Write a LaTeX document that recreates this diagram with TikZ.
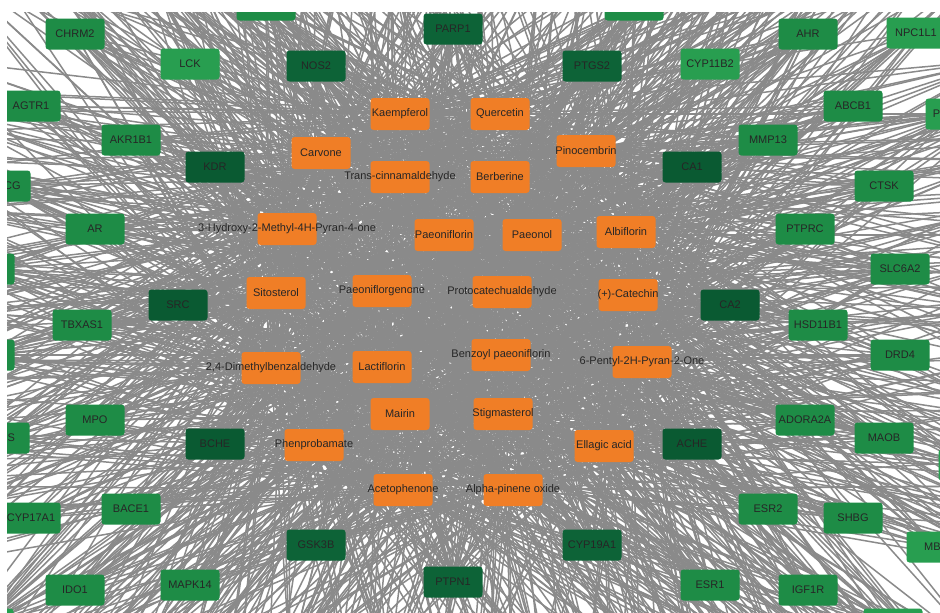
\documentclass[tikz,border=0pt]{standalone}
\usepackage{fontspec}
\setmainfont{Liberation Sans}
\usetikzlibrary{backgrounds}

\definecolor{edgegray}{RGB}{138,138,138}
\definecolor{corange}{RGB}{240,126,38}
\definecolor{gdark}{RGB}{10,90,50}
\definecolor{gdeep}{RGB}{13,99,55}
\definecolor{gmid}{RGB}{30,140,70}
\definecolor{glight}{RGB}{40,158,80}

% label text may run past the box edges without widening the box
\newcommand{\lb}[1]{\makebox[0pt]{#1}}

\tikzset{
  box/.style={rectangle, rounded corners=3pt, minimum width=59pt, minimum height=31pt,
              inner sep=0pt, font=\fontsize{11}{13}\selectfont, text=black!85},
  gd/.style={box, fill=gdark},
  gk/.style={box, fill=gdeep},
  gm/.style={box, fill=gmid},
  gl/.style={box, fill=glight},
  cmp/.style={box, fill=corange, minimum height=32pt},
  link/.style={edgegray, line width=1.5pt},
}

\begin{document}
\begin{tikzpicture}[x=1pt,y=-1pt]
\useasboundingbox (0,0) rectangle (940,613);

\begin{scope}
\clip (7,12) rectangle (940,613);
% ---- compounds
\node[cmp] (kae) at (400,114) {\lb{Kaempferol}};
\node[cmp] (que) at (500,114) {\lb{Quercetin}};
\node[cmp] (car) at (321,153) {\lb{Carvone}};
\node[cmp] (tra) at (400,177) {\lb{Trans-cinnamaldehyde}};
\node[cmp] (ber) at (500,177) {\lb{Berberine}};
\node[cmp] (pin) at (586,151) {\lb{Pinocembrin}};
\node[cmp] (hyd) at (287,229) {\lb{3-Hydroxy-2-Methyl-4H-Pyran-4-one}};
\node[cmp] (pfl) at (444,235) {\lb{Paeoniflorin}};
\node[cmp] (pnl) at (532,235) {\lb{Paeonol}};
\node[cmp] (alb) at (626,232) {\lb{Albiflorin}};
\node[cmp] (sit) at (276,293) {\lb{Sitosterol}};
\node[cmp] (pge) at (382,291) {\lb{Paeoniflorgenone}};
\node[cmp] (pro) at (502,292) {\lb{Protocatechualdehyde}};
\node[cmp] (cat) at (628,295) {\lb{(+)-Catechin}};
\node[cmp] (dim) at (271,368) {\lb{2,4-Dimethylbenzaldehyde}};
\node[cmp] (lac) at (382,367) {\lb{Lactiflorin}};
\node[cmp] (ben) at (501,355) {\lb{Benzoyl paeoniflorin}};
\node[cmp] (pen) at (642,362) {\lb{6-Pentyl-2H-Pyran-2-One}};
\node[cmp] (mai) at (400,414) {\lb{Mairin}};
\node[cmp] (sti) at (503,414) {\lb{Stigmasterol}};
\node[cmp] (phe) at (314,445) {\lb{Phenprobamate}};
\node[cmp] (ell) at (604,446) {\lb{Ellagic acid}};
\node[cmp] (ace) at (403,490) {\lb{Acetophenone}};
\node[cmp] (alp) at (513,490) {\lb{Alpha-pinene oxide}};

% ---- targets
\node[gk] (parp1) at (453,29) {PARP1};
\node[gk] (nos2) at (316,66) {NOS2};
\node[gk] (ptgs2) at (592,66) {PTGS2};
\node[gk] (gsk3b) at (316,545) {GSK3B};
\node[gk] (ptpn1) at (453,582) {PTPN1};
\node[gk] (cyp19a1) at (592,545) {CYP19A1};
\node[gd] (kdr) at (215,167) {KDR};
\node[gd] (src) at (178,305) {SRC};
\node[gd] (bche) at (215,444) {BCHE};
\node[gd] (ca1) at (692,167) {CA1};
\node[gd] (ca2) at (730,305) {CA2};
\node[gd] (ache) at (692,444) {ACHE};

\node[gm] (pt1) at (266,5) {};
\node[gm] (pt2) at (634,5) {};
\node[gm] (chrm2) at (75,34) {CHRM2};
\node[gl] (lck) at (190,64) {LCK};
\node[gm] (agtr1) at (31,106) {AGTR1};
\node[gm] (akr1b1) at (131,140) {AKR1B1};
\node[gm] (pcg) at (1,186) {\lb{\phantom{ABC}CG}};
\node[gm] (ar) at (95,229) {AR};
\node[gm] (pl1) at (-15,269) {};
\node[gm] (tbxas1) at (82,325) {TBXAS1};
\node[gm] (pl2) at (-15,355) {};
\node[gm] (mpo) at (95,420) {MPO};
\node[gm] (ps) at (0,438) {\lb{\phantom{ABC}S}};
\node[gm] (cyp17a1) at (31,518) {CYP17A1};
\node[gm] (bace1) at (131,509) {BACE1};
\node[gm] (ido1) at (75,590) {IDO1};
\node[gm] (mapk14) at (190,585) {MAPK14};
\node[gl] (pl3) at (-16,624) {};

\node[gl] (cyp11b2) at (710,64) {CYP11B2};
\node[gm] (ahr) at (808,34) {AHR};
\node[gl] (npc1l1) at (916,33) {NPC1L1};
\node[gm] (abcb1) at (853,106) {ABCB1};
\node[gl] (pp) at (955,114) {\lb{P\phantom{XXXXX}}};
\node[gm] (mmp13) at (768,140) {MMP13};
\node[gm] (ctsk) at (884,186) {CTSK};
\node[gm] (ptprc) at (805,229) {PTPRC};
\node[gm] (slc6a2) at (900,269) {SLC6A2};
\node[gm] (hsd11b1) at (818,325) {HSD11B1};
\node[gm] (drd4) at (900,355) {DRD4};
\node[gm] (adora2a) at (805,420) {ADORA2A};
\node[gm] (maob) at (884,438) {MAOB};
\node[gl] (pr1) at (968,465) {};
\node[gm] (esr2) at (768,509) {ESR2};
\node[gm] (shbg) at (853,518) {SHBG};
\node[gl] (pmb) at (936,547) {\lb{MB\phantom{A}}};
\node[gm] (esr1) at (710,585) {ESR1};
\node[gm] (igf1r) at (808,590) {IGF1R};
\node[gl] (pbr) at (893,624) {};
\end{scope}

% ---- targets lying beyond the frame
\foreach \i [count=\k] in {-60,-10,...,990}{
  \coordinate (ot\k) at (\i,-40);
  \coordinate (ob\k) at (\i,660);
  \coordinate (ou\k) at (\i+25,-140);
  \coordinate (ov\k) at (\i+25,760);
}
\foreach \j [count=\k] in {60,110,...,560}{
  \coordinate (ol\k) at (-60,\j);
  \coordinate (or\k) at (1000,\j);
  \coordinate (ox\k) at (-180,\j+25);
  \coordinate (oy\k) at (1120,\j+25);
}

\def\compounds{kae,que,car,tra,ber,pin,hyd,pfl,pnl,alb,sit,pge,pro,cat,dim,lac,ben,pen,mai,sti,phe,ell,ace,alp}

\begin{scope}[on background layer]
\fill[white] (0,0) rectangle (940,613);
\clip (7,12) rectangle (940,613);
\pgfmathsetseed{4711}
\foreach \t/\p in {kdr/0.92,src/0.92,bche/0.92,ca1/0.92,ca2/0.92,ache/0.92,
    parp1/0.88,nos2/0.88,ptgs2/0.88,gsk3b/0.88,ptpn1/0.88,cyp19a1/0.88,
    chrm2/0.6,agtr1/0.6,akr1b1/0.6,pcg/0.6,ar/0.6,pl1/0.6,tbxas1/0.6,pl2/0.6,
    mpo/0.6,ps/0.6,cyp17a1/0.6,bace1/0.6,ido1/0.6,mapk14/0.6,esr1/0.6,esr2/0.6,
    shbg/0.6,igf1r/0.6,adora2a/0.6,maob/0.6,ptprc/0.6,slc6a2/0.6,hsd11b1/0.6,
    drd4/0.6,ctsk/0.6,ahr/0.6,abcb1/0.6,mmp13/0.6,pt1/0.6,pt2/0.6,
    lck/0.5,cyp11b2/0.5,npc1l1/0.5,pp/0.5,pmb/0.5,pbr/0.5,pr1/0.5,pl3/0.5}{
  \foreach \c in \compounds{
    \pgfmathtruncatemacro{\keep}{rnd<\p}
    \ifnum\keep=1 \draw[link] (\c.center) -- (\t.center);\fi
  }
}
\foreach \s/\n in {ot/22,ob/22,ou/22,ov/22,ol/11,or/11,ox/11,oy/11}{
  \foreach \k in {1,...,\n}{
    \foreach \c in \compounds{
      \pgfmathtruncatemacro{\keep}{rnd<0.36}
      \ifnum\keep=1 \draw[link] (\c.center) -- (\s\k);\fi
    }
  }
}
\end{scope}
\end{tikzpicture}
\end{document}
